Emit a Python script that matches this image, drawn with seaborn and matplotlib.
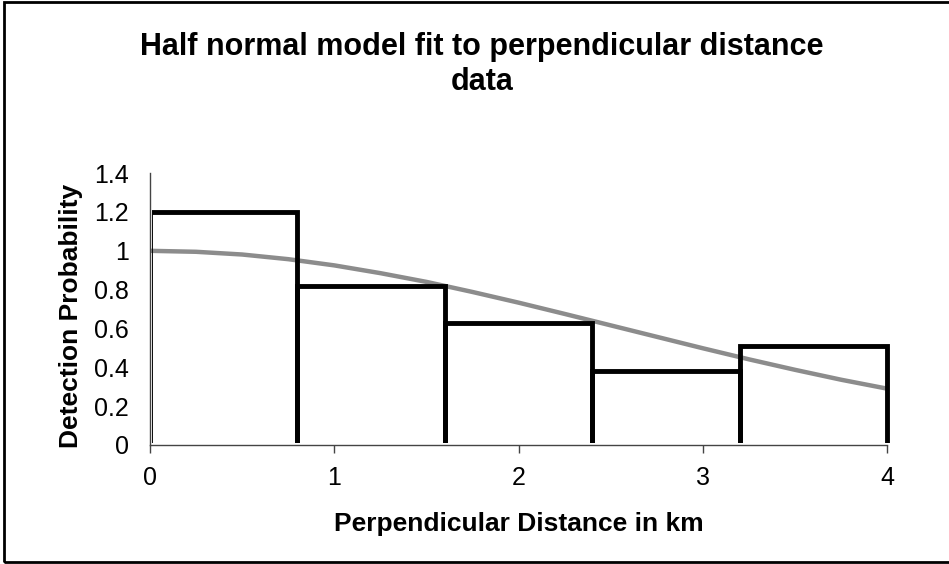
import matplotlib.pyplot as plt
import seaborn as sns
from matplotlib.patches import Rectangle

# histogram bins (km) and observed detection heights
bin_edges = [0, 0.8, 1.6, 2.4, 3.2, 4.0]
bin_mids = [0.4, 1.2, 2.0, 2.8, 3.6]
bar_heights = [1.20, 0.82, 0.63, 0.38, 0.51]

# half normal curve
curve_x = [0, 0.25, 0.5, 0.75, 1.0, 1.25, 1.5, 1.75, 2.0,
           2.25, 2.5, 2.75, 3.0, 3.25, 3.5, 3.75, 4.0]
curve_y = [1.00, 0.995, 0.981, 0.957, 0.925, 0.885, 0.840, 0.788, 0.733,
           0.675, 0.616, 0.557, 0.498, 0.441, 0.387, 0.336, 0.290]

y_ticks = [0, 0.2, 0.4, 0.6, 0.8, 1.0, 1.2, 1.4]
y_tick_labels = ["0", "0.2", "0.4", "0.6", "0.8", "1", "1.2", "1.4"]
x_ticks = [0, 1, 2, 3, 4]

sns.set_style("white")
plt.rcParams["font.family"] = ["Liberation Sans", "DejaVu Sans"]
plt.rcParams["text.color"] = "black"
plt.rcParams["axes.labelcolor"] = "black"
plt.rcParams["xtick.color"] = "black"
plt.rcParams["ytick.color"] = "black"

fig = plt.figure(figsize=(9.49, 5.64), dpi=100)
ax = fig.add_axes([0.158, 0.211, 0.777, 0.482])

sns.lineplot(x=curve_x, y=curve_y, color="#8c8c8c", linewidth=3.2, ax=ax, zorder=2)
sns.histplot(x=bin_mids, weights=bar_heights, bins=bin_edges, fill=False,
             element="bars", color="black", linewidth=3.5, ax=ax, zorder=3)

ax.set_xlim(0, 4)
ax.set_ylim(0, 1.4)

# hide the thick edges lying on the axes (only the thin axis lines show there)
clip = Rectangle((0.012, 0.008), 5, 5, transform=ax.transData)
for p in ax.patches:
    p.set_clip_path(clip)
    p.set_edgecolor("black")

ax.set_yticks(y_ticks, labels=y_tick_labels)
ax.set_xticks(x_ticks)
ax.tick_params(axis="y", length=0, labelsize=18, pad=15)
ax.tick_params(axis="x", length=6, width=1, direction="out", bottom=True,
               labelsize=18, pad=9, color="#444444")

sns.despine(ax=ax)
for s in ["left", "bottom"]:
    ax.spines[s].set_color("#444444")
    ax.spines[s].set_linewidth(1)

ax.set_xlabel("Perpendicular Distance in km", fontsize=19, fontweight="bold", labelpad=16)
ax.set_ylabel("Detection Probability", fontsize=19, fontweight="bold", labelpad=8, y=0.474)

fig.text(0.508, 0.943, "Half normal model fit to perpendicular distance\ndata",
         ha="center", va="top", fontsize=22, fontweight="bold", linespacing=1.21)

# outer chart border
fig.patches.append(Rectangle((0.004, 0.004), 1.2, 0.992, transform=fig.transFigure,
                             fill=False, edgecolor="black", linewidth=2))

fig.savefig("out.png", dpi=100)
